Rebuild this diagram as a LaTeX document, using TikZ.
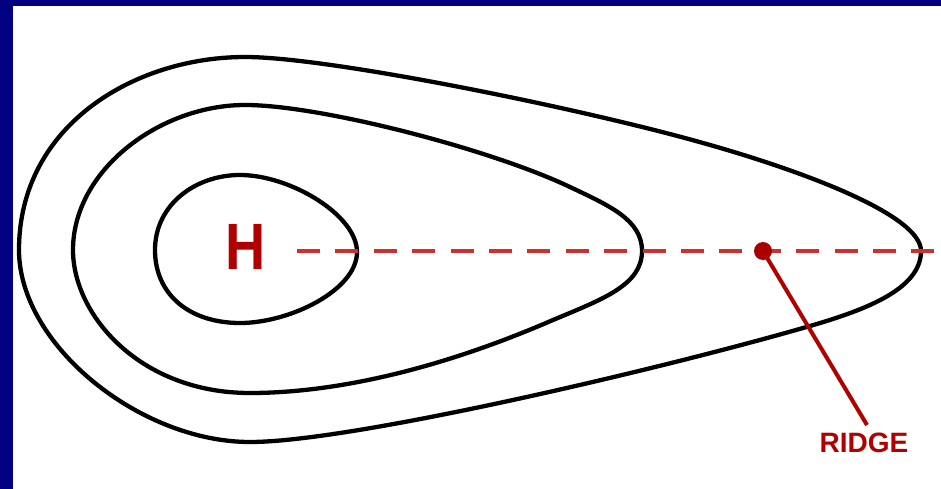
\documentclass[tikz,border=0pt]{standalone}
\usepackage{fontspec}
\newfontfamily\labelfont{Liberation Sans}
\definecolor{navyb}{HTML}{000080}
\definecolor{dashred}{HTML}{CC3030}
\definecolor{hred}{HTML}{B00000}
\definecolor{dotred}{HTML}{A80000}
\begin{document}
\begin{tikzpicture}[x=1pt,y=-1pt,
  contour/.style={line width=4.3pt, black, line join=round},
  axisline/.style={line width=4.5pt, dashred, dash pattern=on 23pt off 15.4pt},
  ridgeline/.style={line width=4pt, hred},
  hlabelstyle/.style={inner sep=0pt, text=hred, font=\labelfont\bfseries\fontsize{65.5}{66}\selectfont},
  rlabelstyle/.style={inner sep=0pt, text=hred, font=\labelfont\bfseries\fontsize{28}{28}\selectfont},
  ridgedotstyle/.style={circle, fill=dotred, minimum size=18pt, inner sep=0pt}]
\useasboundingbox (0,0) rectangle (941,489);
\fill[white] (0,0) rectangle (941,489);
\fill[navyb] (0,0) rectangle (941,6);
\fill[navyb] (0,0) rectangle (13,489);
% contours
\draw[contour] (19,250) .. controls (19,125) and (135,57) .. (245,57)
  .. controls (330,57) and (583,109) .. (703,143)
  .. controls (803,171) and (921,215) .. (921,251)
  .. controls (921,290) and (863,311) .. (803,328)
  .. controls (653,371) and (350,442) .. (250,442)
  .. controls (140,442) and (19,345) .. (19,250) -- cycle;
\draw[contour] (73,250) .. controls (73,170) and (160,105) .. (245,105)
  .. controls (320,105) and (490,149) .. (570,187)
  .. controls (610,206) and (642,220) .. (642,251)
  .. controls (642,285) and (603,299) .. (553,320)
  .. controls (433,372) and (330,393) .. (250,393)
  .. controls (140,393) and (73,315) .. (73,250) -- cycle;
\draw[contour] (155,250) .. controls (155,205) and (195,175) .. (240,175)
  .. controls (290,175) and (357,215) .. (357,252)
  .. controls (357,290) and (290,323) .. (240,323)
  .. controls (190,323) and (155,295) .. (155,250) -- cycle;
% labels and ridge axis
\node[hlabelstyle] (hlabel) at (246,247) {\scalebox{0.85}[1]{H}};
\coordinate (axisstart) at (297,251);
\coordinate (axisend) at (941,251);
\draw[axisline] (axisstart) -- (axisend);
\node[ridgedotstyle] (ridgedot) at (763,251) {};
\node[rlabelstyle] (ridgelabel) at (864,443) {RIDGE};
\coordinate (ridgeend) at (867,425);
\draw[ridgeline] (ridgedot.center) -- (ridgeend);
\end{tikzpicture}
\end{document}
